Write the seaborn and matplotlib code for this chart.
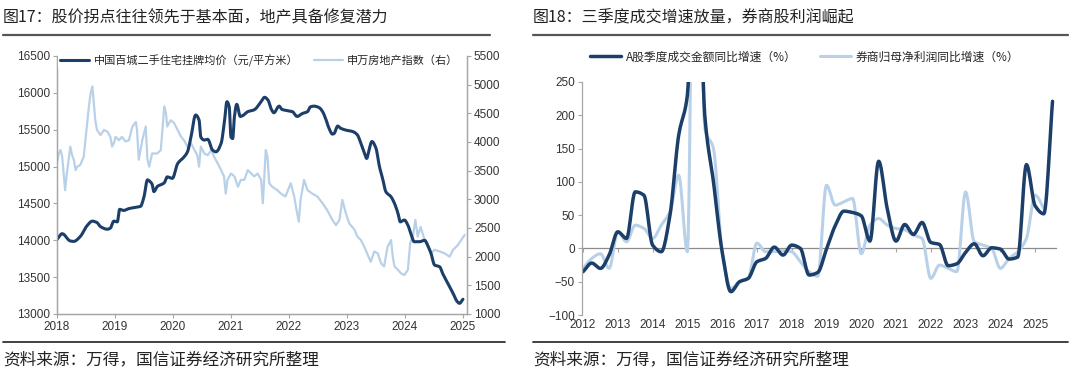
import numpy as np
import pandas as pd
import matplotlib
matplotlib.use("Agg")
import matplotlib.pyplot as plt
import seaborn as sns

# ---------------- data: left chart ----------------
price_t = [2018.00, 2018.09, 2018.23, 2018.29, 2018.40, 2018.52, 2018.61, 2018.69, 2018.75, 2018.87,
           2018.92, 2018.98, 2019.04, 2019.08, 2019.15, 2019.24, 2019.38, 2019.44, 2019.50, 2019.56,
           2019.60, 2019.64, 2019.67, 2019.73, 2019.85, 2019.90, 2019.99, 2020.08, 2020.19, 2020.25,
           2020.31, 2020.39, 2020.45, 2020.48, 2020.54, 2020.60, 2020.68, 2020.74, 2020.83, 2020.89,
           2020.93, 2020.97, 2021.00, 2021.03, 2021.06, 2021.10, 2021.16, 2021.20, 2021.29, 2021.40,
           2021.52, 2021.58, 2021.64, 2021.70, 2021.74, 2021.83, 2021.88, 2021.97, 2022.06, 2022.14,
           2022.23, 2022.32, 2022.37, 2022.43, 2022.52, 2022.58, 2022.63, 2022.69, 2022.75, 2022.78,
           2022.84, 2022.89, 2022.98, 2023.10, 2023.18, 2023.24, 2023.30, 2023.34, 2023.38, 2023.43,
           2023.50, 2023.56, 2023.62, 2023.67, 2023.76, 2023.82, 2023.88, 2023.92, 2023.99, 2024.05,
           2024.11, 2024.16, 2024.25, 2024.34, 2024.39, 2024.45, 2024.51, 2024.60, 2024.65, 2024.74,
           2024.83, 2024.90, 2024.94, 2025.00]
price_v = [14010, 14090, 13990, 13985, 14050, 14200, 14260, 14240, 14185, 14150,
           14165, 14260, 14250, 14420, 14405, 14430, 14450, 14460, 14590, 14820,
           14800, 14760, 14660, 14730, 14780, 14860, 14840, 15040, 15130, 15200,
           15400, 15700, 15630, 15400, 15360, 15370, 15225, 15200, 15315, 15630,
           15880, 15810, 15400, 15380, 15680, 15845, 15680, 15690, 15745, 15770,
           15880, 15940, 15900, 15770, 15730, 15820, 15775, 15760, 15745, 15680,
           15720, 15745, 15810, 15820, 15800, 15745, 15655, 15520, 15440, 15450,
           15550, 15520, 15495, 15475, 15430, 15315, 15180, 15110, 15225, 15340,
           15250, 15000, 14820, 14660, 14590, 14500, 14365, 14250, 14275, 14207,
           14070, 13980, 13980, 14000, 13935, 13820, 13665, 13640, 13550, 13415,
           13280, 13170, 13145, 13200]

index_t = [2018.00, 2018.03, 2018.06, 2018.09, 2018.12, 2018.14, 2018.17, 2018.20, 2018.23, 2018.26,
           2018.29, 2018.32, 2018.35, 2018.40, 2018.46, 2018.49, 2018.52, 2018.55, 2018.58, 2018.61,
           2018.63, 2018.66, 2018.69, 2018.75, 2018.81, 2018.87, 2018.92, 2018.95, 2018.98, 2019.01,
           2019.07, 2019.12, 2019.18, 2019.24, 2019.30, 2019.36, 2019.38, 2019.41, 2019.47, 2019.53,
           2019.56, 2019.59, 2019.64, 2019.73, 2019.79, 2019.85, 2019.88, 2019.90, 2019.96, 2020.02,
           2020.08, 2020.14, 2020.19, 2020.25, 2020.31, 2020.37, 2020.42, 2020.45, 2020.48, 2020.54,
           2020.60, 2020.66, 2020.71, 2020.77, 2020.83, 2020.88, 2020.91, 2020.94, 2021.00, 2021.06,
           2021.12, 2021.17, 2021.23, 2021.29, 2021.35, 2021.40, 2021.46, 2021.52, 2021.55, 2021.60,
           2021.63, 2021.66, 2021.71, 2021.80, 2021.86, 2021.94, 2022.03, 2022.09, 2022.14, 2022.17,
           2022.20, 2022.26, 2022.32, 2022.40, 2022.49, 2022.58, 2022.66, 2022.75, 2022.81, 2022.87,
           2022.92, 2022.98, 2023.04, 2023.13, 2023.18, 2023.24, 2023.30, 2023.36, 2023.41, 2023.47,
           2023.53, 2023.59, 2023.64, 2023.70, 2023.76, 2023.79, 2023.82, 2023.88, 2023.93, 2023.99,
           2024.05, 2024.09, 2024.14, 2024.18, 2024.22, 2024.27, 2024.34, 2024.39, 2024.45, 2024.51,
           2024.60, 2024.68, 2024.77, 2024.83, 2024.91, 2024.97, 2025.03]
index_v = [3630, 3800, 3860, 3740, 3400, 3160, 3450, 3690, 3920, 3770,
           3690, 3510, 3570, 3600, 3740, 4030, 4330, 4620, 4850, 4970,
           4730, 4380, 4210, 4120, 4210, 4180, 4090, 3920, 3980, 4090,
           4030, 4090, 4010, 4030, 4270, 4350, 4210, 3690, 4030, 4270,
           3690, 3570, 3800, 3800, 3860, 4620, 4500, 4270, 4380, 4330,
           4210, 4090, 4030, 3920, 3980, 3860, 3770, 3570, 3920, 3800,
           3770, 3860, 3740, 3630, 3510, 3400, 3100, 3340, 3450, 3400,
           3220, 3340, 3340, 3510, 3450, 3400, 3450, 3340, 2930, 3860,
           3740, 3280, 3220, 3160, 3100, 3050, 3280, 3050, 2760, 2610,
           2990, 3340, 3160, 3100, 3050, 2930, 2810, 2640, 2550, 2640,
           2990, 2760, 2580, 2470, 2350, 2290, 2170, 2030, 1910, 2090,
           2060, 1880, 1830, 2170, 2290, 2000, 1830, 1770, 1710, 1680,
           1770, 2230, 2380, 2640, 2350, 2520, 2290, 2230, 2060, 2120,
           2090, 2060, 2000, 2120, 2200, 2290, 2380]

left_years = [2018, 2019, 2020, 2021, 2022, 2023, 2024, 2025]
left_yticks = [13000, 13500, 14000, 14500, 15000, 15500, 16000, 16500]
right_yticks = [1000, 1500, 2000, 2500, 3000, 3500, 4000, 4500, 5000, 5500]

# ---------------- data: right chart (quarterly) ----------------
turnover_yoy = [-35, -22, -30, -10,
                25, 15, 85, 80,
                5, -5, 50, 170,
                230, 600, 200, 100,
                -5, -65, -50, -45,
                -20, -15, 2, -10,
                5, 0, -40, -36,
                -1, 34, 56, 54,
                49, 11, 131, 59,
                11, 36, 21, 39,
                9, 6, -26, -23,
                -6, 7, -11, 1,
                -1, -16, -13, 126,
                64, 52, 221]
broker_profit_yoy = [-30, -15, -8, -30,
                     25, 10, 35, 30,
                     15, 35, 55, 110,
                     -5, 900, 180, 150,
                     -5, -60, -50, -45,
                     8, -5, -5, -3,
                     -5, -20, -35, -42,
                     95, 65, 70, 75,
                     -8, 35, 45, 35,
                     30, 28, 20, 15,
                     -45, -25, -30, -35,
                     85, 10, 5, 0,
                     -30, -15, -5, 15,
                     80, 60]
right_years = list(range(2012, 2026))
right_ytick = [-100, -50, 0, 50, 100, 150, 200, 250]

DARK = "#1c3f6a"
LIGHT = "#b9d1e8"
CJK = ["Noto Sans CJK SC", "DejaVu Sans"]
NUM = ["Liberation Sans", "Noto Sans CJK SC"]


def pchip_curve(x, y, n=12):
    """Smooth drawing of a line through the given points (monotone cubic)."""
    x = np.asarray(x, float)
    y = np.asarray(y, float)
    h = np.diff(x)
    d = np.diff(y) / h
    m = np.zeros_like(y)
    m[0], m[-1] = d[0], d[-1]
    for k in range(1, len(y) - 1):
        if d[k - 1] * d[k] <= 0:
            m[k] = 0.0
        else:
            w1 = 2 * h[k] + h[k - 1]
            w2 = h[k] + 2 * h[k - 1]
            m[k] = (w1 + w2) / (w1 / d[k - 1] + w2 / d[k])
    xs, ys = [], []
    s = np.linspace(0, 1, n, endpoint=False)
    for k in range(len(x) - 1):
        h00 = 2 * s**3 - 3 * s**2 + 1
        h10 = s**3 - 2 * s**2 + s
        h01 = -2 * s**3 + 3 * s**2
        h11 = s**3 - s**2
        xs.append(x[k] + s * h[k])
        ys.append(h00 * y[k] + h10 * h[k] * m[k] + h01 * y[k + 1] + h11 * h[k] * m[k + 1])
    xs.append([x[-1]])
    ys.append([y[-1]])
    return np.concatenate(xs), np.concatenate(ys)


sns.set_theme(style="white")
plt.rcParams["font.family"] = NUM
plt.rcParams["axes.unicode_minus"] = True

fig = plt.figure(figsize=(10.8, 3.77), dpi=100)
W, H = 1080.0, 377.0


def fx(px):
    return px / W


def fy(py):
    return 1 - py / H


# ---------------- titles, rules, footers ----------------
fig.text(fx(3), fy(18), "图17：股价拐点往往领先于基本面，地产具备修复潜力", family=CJK,
         fontsize=11.5, va="center", ha="left", color="#222222")
fig.text(fx(533), fy(18), "图18：三季度成交增速放量，券商股利润崛起", family=CJK,
         fontsize=11.5, va="center", ha="left", color="#222222")
for x0, x1 in [(3, 490), (533, 1068)]:
    fig.add_artist(plt.Line2D([fx(x0), fx(x1)], [fy(35), fy(35)], color="#555555", lw=1.6,
                              transform=fig.transFigure))
for x0, x1 in [(3, 505), (533, 1068)]:
    fig.add_artist(plt.Line2D([fx(x0), fx(x1)], [fy(342), fy(342)], color="#333333", lw=1.3,
                              transform=fig.transFigure))
fig.text(fx(3), fy(360), "资料来源：万得，国信证券经济研究所整理", family=CJK,
         fontsize=12, va="center", ha="left", color="#222222")
fig.text(fx(533), fy(360), "资料来源：万得，国信证券经济研究所整理", family=CJK,
         fontsize=12, va="center", ha="left", color="#222222")

# ---------------- left chart ----------------
axL = fig.add_axes([fx(57), fy(314), (467 - 57) / W, (314 - 56) / H])
axR = axL.twinx()
px_s, pv_s = pchip_curve(price_t, price_v, n=6)
sns.lineplot(x=index_t, y=index_v, ax=axR, color=LIGHT, lw=1.6, sort=False,
             label="申万房地产指数（右）", legend=False)
sns.lineplot(x=px_s, y=pv_s, ax=axL, color=DARK, lw=2.2, sort=False,
             label="中国百城二手住宅挂牌均价（元/平方米）", legend=False)
axL.set_zorder(axR.get_zorder() + 1)
axL.patch.set_visible(False)

axL.set_xlim(2018, 2025.07)
axL.set_ylim(13000, 16500)
axR.set_ylim(1000, 5500)
axL.set_xticks(left_years)
axL.set_xticklabels([str(y) for y in left_years])
axL.set_yticks(left_yticks)
axL.set_yticklabels([str(v) for v in left_yticks])
axR.set_yticks(right_yticks)
axR.set_yticklabels([str(v) for v in right_yticks])
axL.set_xlabel("")
axL.set_ylabel("")
axR.set_ylabel("")
for ax in (axL, axR):
    for sp in ax.spines.values():
        sp.set_color("#a6a6a6")
        sp.set_linewidth(0.9)
    ax.spines["top"].set_visible(False)
axL.tick_params(axis="both", which="both", labelsize=8.5, colors="#a6a6a6", labelcolor="#333333",
                length=3, width=0.8, direction="out", pad=2, left=True, bottom=True)
axR.tick_params(axis="y", labelsize=8.5, colors="#a6a6a6", labelcolor="#333333",
                length=3, width=0.8, direction="out", pad=2, right=True)
hL, lL = axL.get_legend_handles_labels()
hR, lR = axR.get_legend_handles_labels()
leg = axL.legend(hL + hR, lL + lR, loc="upper left", bbox_to_anchor=(0.0, 1.02), ncol=2,
                 frameon=True, facecolor="white", edgecolor="none", framealpha=1,
                 prop={"family": CJK, "size": 8}, handlelength=2.6, columnspacing=1.4,
                 handletextpad=0.4, borderpad=0.2, borderaxespad=0.1)

# ---------------- right chart ----------------
ax2 = fig.add_axes([fx(582), fy(315), (1056 - 582) / W, (315 - 82) / H])
q_dark = [2012 + i * 0.25 for i in range(len(turnover_yoy))]
q_light = [2012 + i * 0.25 for i in range(len(broker_profit_yoy))]
xd, yd = pchip_curve(q_dark, turnover_yoy)
xl, yl = pchip_curve(q_light, broker_profit_yoy)
sns.lineplot(x=xl, y=yl, ax=ax2, color=LIGHT, lw=2.2, sort=False,
             label="券商归母净利润同比增速（%）", legend=False)
sns.lineplot(x=xd, y=yd, ax=ax2, color=DARK, lw=2.5, sort=False,
             label="A股季度成交金额同比增速（%）", legend=False)
ymin, ymax = -100, 250
ax2.set_ylim(ymin, ymax)
ax2.set_xlim(2011.97, 2025.6)
ax2.set_yticks(right_ytick)
ax2.set_yticklabels([f"{v}".replace("-", "\u2212") for v in right_ytick])
ax2.set_xticks(right_years)
ax2.set_xticklabels([str(y) for y in right_years])
ax2.set_xlabel("")
ax2.set_ylabel("")
for s in ("top", "right", "bottom"):
    ax2.spines[s].set_visible(False)
ax2.spines["left"].set_color("#a6a6a6")
ax2.spines["left"].set_linewidth(0.9)
ax2.tick_params(axis="y", labelsize=8.5, colors="#a6a6a6", labelcolor="#333333",
                length=3, width=0.8, direction="out", pad=2, left=True)
ax2.tick_params(axis="x", labelsize=8.5, labelcolor="#333333", length=0, pad=3, bottom=True)
zero_frac = (0 - ymin) / (ymax - ymin)
sec = ax2.secondary_xaxis(zero_frac)
sec.set_xticks(right_years)
sec.set_xticklabels([])
sec.tick_params(axis="x", length=3, width=0.8, colors="#a6a6a6", direction="out")
sec.spines["bottom"].set_color("#8c8c8c")
sec.spines["bottom"].set_linewidth(0.9)
h2, l2 = ax2.get_legend_handles_labels()
ax2.legend(h2[::-1], l2[::-1], loc="center", bbox_to_anchor=(0.47, 1.107), ncol=2,
           frameon=False, prop={"family": CJK, "size": 8.5}, handlelength=2.6,
           columnspacing=2.0, handletextpad=0.4)

fig.savefig("out.png", dpi=100, facecolor="white")
